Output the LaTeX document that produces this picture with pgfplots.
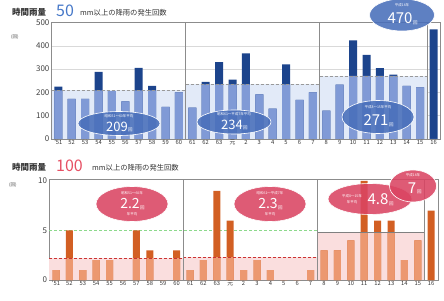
\documentclass[border=0pt]{standalone}
\usepackage{fontspec}
\setmainfont{Noto Sans CJK JP}
\usepackage{pgfplots}
\pgfplotsset{compat=1.18}
\usepackage{pgfplotstable}
\usetikzlibrary{shapes.geometric}

\definecolor{lb}{RGB}{128,154,214}
\definecolor{db}{RGB}{28,68,140}
\definecolor{bgA}{RGB}{226,234,248}
\definecolor{elA}{RGB}{72,110,186}
\definecolor{tA}{RGB}{70,120,200}
\definecolor{lo}{RGB}{236,152,112}
\definecolor{do}{RGB}{210,95,35}
\definecolor{bgB}{RGB}{250,222,222}
\definecolor{elB}{RGB}{218,68,98}
\definecolor{tB}{RGB}{230,80,100}
\definecolor{fr}{RGB}{140,140,140}

\pgfplotstableread{
x v a
0 225 209
1 172 209
2 172 209
3 288 209
4 205 209
5 162 209
6 305 209
7 228 209
8 138 209
9 200 209
10 135 234
11 245 234
12 330 234
13 255 234
14 368 234
15 192 234
16 130 234
17 320 234
18 168 234
19 200 234
20 122 271
21 233 271
22 423 271
23 361 271
24 304 271
25 276 271
26 228 271
27 222 271
28 470 0
}\rainA

\pgfplotstableread{
x v a
0 1 2.2
1 5 2.2
2 1 2.2
3 2 2.2
4 2 2.2
5 0 2.2
6 5 2.2
7 3 2.2
8 0 2.2
9 3 2.2
10 1 2.3
11 2 2.3
12 9 2.3
13 6 2.3
14 1 2.3
15 2 2.3
16 1 2.3
17 0 2.3
18 0 2.3
19 1 2.3
20 3 4.8
21 3 4.8
22 4 4.8
23 10 4.8
24 6 4.8
25 6 4.8
26 2 4.8
27 4 4.8
28 7 0
}\rainB

\pgfplotsset{
  common/.style={
    scale only axis, width=388.6pt,
    xmin=-0.5, xmax=28.5, ymin=0,
    xtick={0,...,28},
    xticklabels={’51,52,53,54,55,56,57,58,59,60,61,62,63,元,2,3,4,5,6,7,8,9,10,11,12,13,14,15,16},
    major tick length=0pt,
    xticklabel style={font=\fontsize{5.8}{6}\selectfont, text=black!80, inner sep=1pt},
    yticklabel style={font=\fontsize{8}{8}\selectfont, text=black!75, inner sep=2pt},
    /pgf/number format/assume math mode=true,
    axis line style={draw=fr},
    clip=false,
  },
}

\tikzset{
  elt/.style={ellipse, inner sep=0pt, draw=white, line width=0.6pt, fill opacity=0.88},
  sm/.style={text=white, inner sep=0pt, font=\fontsize{3.5}{4}\selectfont},
  big/.style={text=white, inner sep=0pt, font=\fontsize{#1}{#1}\selectfont},
}

\begin{document}
\begin{tikzpicture}
% ---------- top chart ----------
\begin{axis}[common, at={(51.6pt,161pt)}, anchor=south west, height=116.5pt,
  ymax=500, ytick={0,100,200,300,400,500},
  ymajorgrids, grid style={draw=gray!30}]
\addplot[fill=bgA, draw=none] coordinates {(-0.5,209) (9.5,209)} \closedcycle;
\addplot[fill=bgA, draw=none] coordinates {(9.5,234) (19.5,234)} \closedcycle;
\addplot[fill=bgA, draw=none] coordinates {(19.5,271) (27.5,271)} \closedcycle;
\addplot[ybar, bar shift=0pt, bar width=8pt, fill=db, draw=none] table[x=x,y=v]{\rainA};
\addplot[ybar, bar shift=0pt, bar width=8pt, fill=lb, draw=none] table[x=x,y expr={min(\thisrow{v},\thisrow{a})}]{\rainA};
\addplot[gray!80, densely dashed, thin] coordinates {(-0.5,209) (9.5,209)};
\addplot[gray!80, densely dashed, thin] coordinates {(9.5,234) (19.5,234)};
\addplot[gray!80, densely dashed, thin] coordinates {(19.5,271) (27.5,271)};
\addplot[fr, thin] coordinates {(9.5,0) (9.5,500)};
\addplot[fr, thin] coordinates {(19.5,0) (19.5,500)};
\addplot[fr, thin] coordinates {(27.5,0) (27.5,500)};
\end{axis}
% ---------- bottom chart ----------
\begin{axis}[common, at={(49.3pt,20pt)}, anchor=south west, height=101pt,
  ymax=10.2, ytick={0,5,10}]
\addplot[fill=bgB, draw=none] coordinates {(-0.5,2.2) (9.5,2.2)} \closedcycle;
\addplot[fill=bgB, draw=none] coordinates {(9.5,2.3) (19.5,2.3)} \closedcycle;
\addplot[fill=bgB, draw=none] coordinates {(19.5,4.8) (27.5,4.8)} \closedcycle;
\addplot[green!50!gray!60, densely dashed, thin] coordinates {(-0.5,5) (19.5,5)};
\addplot[ybar, bar shift=0pt, bar width=7pt, fill=do, draw=none] table[x=x,y=v]{\rainB};
\addplot[ybar, bar shift=0pt, bar width=7pt, fill=lo, draw=none] table[x=x,y expr={min(\thisrow{v},\thisrow{a})}]{\rainB};
\addplot[red!60!gray, densely dashed, thin] coordinates {(-0.5,2.2) (9.5,2.2)};
\addplot[red!60!gray, densely dashed, thin] coordinates {(9.5,2.3) (19.5,2.3)};
\addplot[gray, thin] coordinates {(19.5,4.8) (27.5,4.8)};
\addplot[fr, thin] coordinates {(9.5,0) (9.5,10.2)};
\addplot[fr, thin] coordinates {(19.5,0) (19.5,10.2)};
\addplot[fr, thin] coordinates {(27.5,0) (27.5,10.2)};
\end{axis}

% ---------- titles ----------
\node[anchor=west, inner sep=0pt, font=\fontsize{8.5}{9}\selectfont\bfseries, text=black!80] at (12pt,288pt) {時間雨量};
\node[anchor=west, inner sep=0pt, font=\fontsize{16}{16}\selectfont, text=tA] at (56pt,289pt) {50};
\node[anchor=west, inner sep=0pt, font=\fontsize{7.3}{7.3}\selectfont, text=black!80] at (80pt,287pt) {mm以上の降雨の発生回数};
\node[anchor=west, inner sep=0pt, font=\fontsize{4.5}{5}\selectfont, text=black!70] at (11pt,263pt) {(回)};

\node[anchor=west, inner sep=0pt, font=\fontsize{8.5}{9}\selectfont\bfseries, text=black!80] at (12pt,133pt) {時間雨量};
\node[anchor=west, inner sep=0pt, font=\fontsize{16}{16}\selectfont, text=tB] at (56pt,134pt) {100};
\node[anchor=west, inner sep=0pt, font=\fontsize{7.3}{7.3}\selectfont, text=black!80] at (92pt,132pt) {mm以上の降雨の発生回数};
\node[anchor=west, inner sep=0pt, font=\fontsize{4.5}{5}\selectfont, text=black!70] at (9pt,115pt) {(回)};

% ---------- ellipses top ----------
\node[elt, fill=elA, minimum width=82pt, minimum height=24pt] at (119pt,176.5pt) {};
\node[sm] at (119pt,184pt) {昭和51～60年平均};
\node[big=13] at (117pt,173.5pt) {209};
\node[sm, font=\fontsize{4.5}{5}\selectfont, anchor=south west] at (128pt,168pt) {回};

\node[elt, fill=elA, minimum width=74pt, minimum height=24pt] at (234pt,178pt) {};
\node[sm] at (234pt,185.5pt) {昭和61～平成7年平均};
\node[big=13] at (232pt,175pt) {234};
\node[sm, font=\fontsize{4.5}{5}\selectfont, anchor=south west] at (243pt,169.5pt) {回};

\node[elt, fill=elA, minimum width=72pt, minimum height=33pt] at (378pt,183pt) {};
\node[sm] at (378pt,193pt) {平成8～15年平均};
\node[big=15] at (376pt,180pt) {271};
\node[sm, font=\fontsize{4.5}{5}\selectfont, anchor=south west] at (389pt,173pt) {回};

\node[elt, fill=elA, minimum width=65pt, minimum height=32pt] at (402pt,285pt) {};
\node[sm] at (402pt,295pt) {平成16年};
\node[big=15] at (400pt,282pt) {470};
\node[sm, font=\fontsize{4.5}{5}\selectfont, anchor=south west] at (413pt,275pt) {回};

% ---------- ellipses bottom ----------
\node[elt, fill=elB, minimum width=72pt, minimum height=35pt] at (132pt,96pt) {};
\node[sm] at (132pt,107pt) {昭和51～60年};
\node[big=14] at (130pt,96pt) {2.2};
\node[sm, font=\fontsize{4.5}{5}\selectfont, anchor=south west] at (140pt,90pt) {回};
\node[sm] at (132pt,85.5pt) {年平均};

\node[elt, fill=elB, minimum width=72pt, minimum height=35pt] at (270pt,96pt) {};
\node[sm] at (270pt,107pt) {昭和61～平成7年};
\node[big=14] at (268pt,96pt) {2.3};
\node[sm, font=\fontsize{4.5}{5}\selectfont, anchor=south west] at (278pt,90pt) {回};
\node[sm] at (270pt,85.5pt) {年平均};

\node[elt, fill=elB, minimum width=84pt, minimum height=31pt] at (370pt,101pt) {};
\node[sm] at (352pt,104pt) {平成8～15年};
\node[sm] at (352pt,98pt) {年平均};
\node[big=15] at (378pt,101pt) {4.8};
\node[sm, font=\fontsize{4.5}{5}\selectfont, anchor=south west] at (389pt,94pt) {回};

\node[elt, fill=elB, minimum width=47pt, minimum height=32pt] at (413pt,114pt) {};
\node[sm] at (413pt,124.5pt) {平成16年};
\node[big=15] at (412pt,112pt) {7};
\node[sm, font=\fontsize{4.5}{5}\selectfont, anchor=south west] at (417pt,106pt) {回};

\pgfresetboundingbox
\useasboundingbox (0pt,0pt) rectangle (444pt,300pt);
\end{tikzpicture}
\end{document}
